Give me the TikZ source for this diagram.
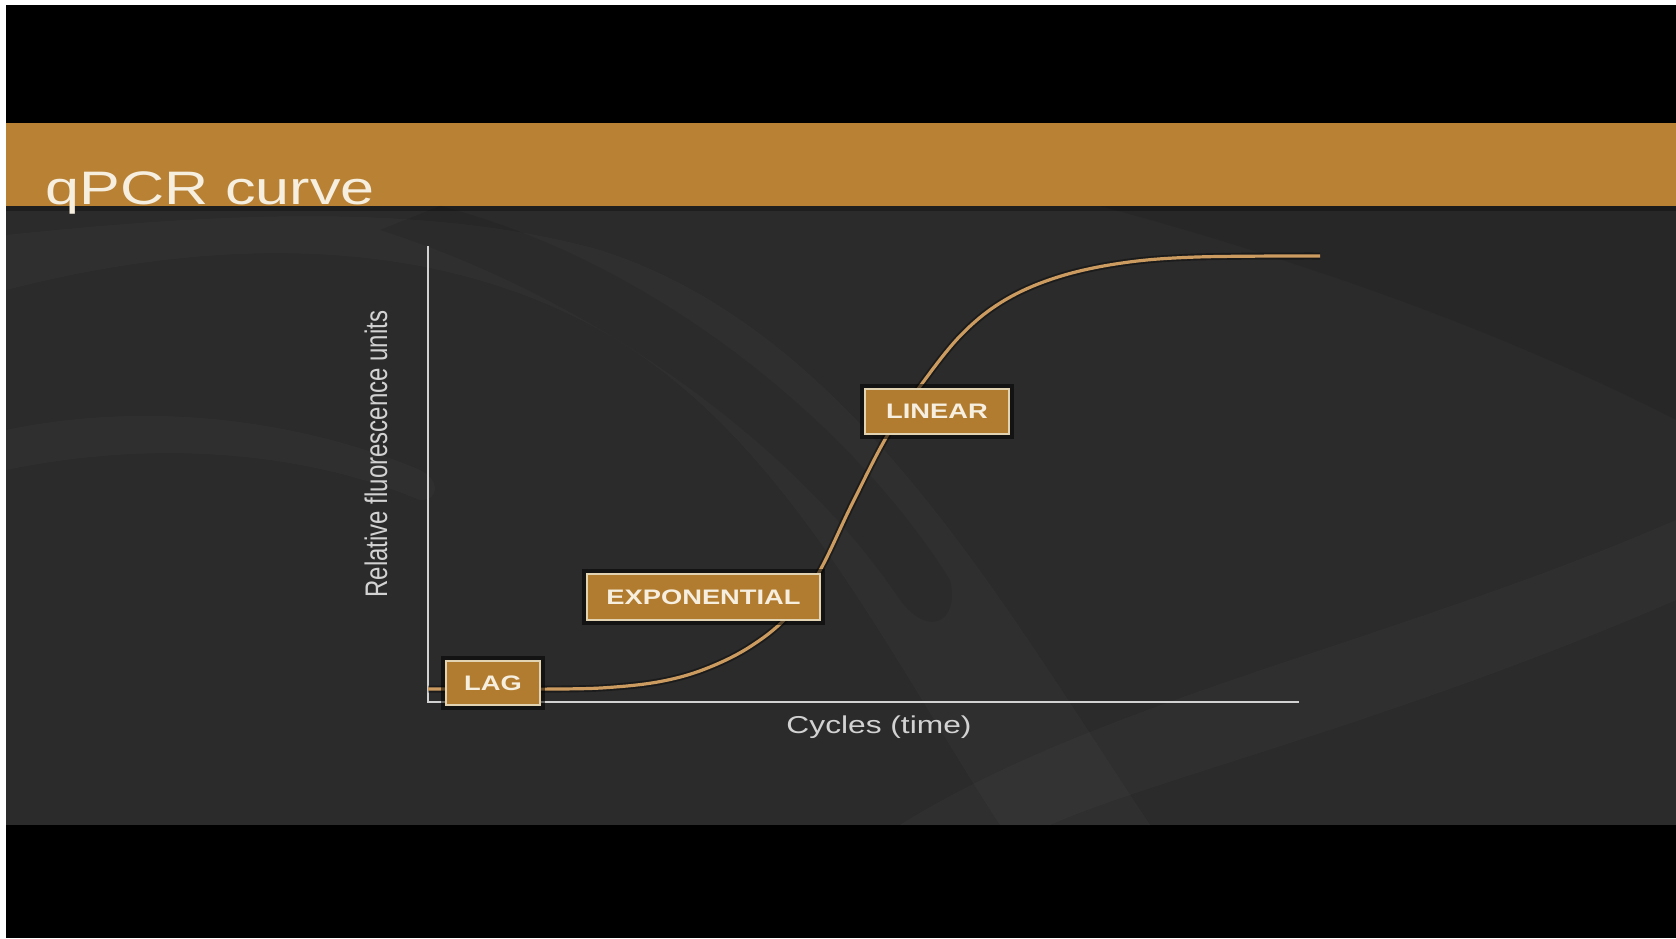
\documentclass[tikz,border=0pt]{standalone}
\usepackage{fontspec}
\setmainfont{Liberation Sans}
\usepackage{graphicx}
\definecolor{band}{RGB}{184,129,52}
\definecolor{panel}{RGB}{43,43,43}
\definecolor{boxfill}{RGB}{178,124,48}
\definecolor{boxedge}{RGB}{226,212,178}
\definecolor{curvec}{RGB}{203,155,96}
\definecolor{axisc}{RGB}{210,210,210}
\definecolor{titlec}{RGB}{246,238,222}
\newcommand\hstretch[1]{\scalebox{1.3}[1]{#1}}
\begin{document}
\begin{tikzpicture}[x=0.5pt,y=-0.5pt,
  phase/.style={draw=boxedge, line width=1pt, fill=boxfill, text=titlec,
    font=\bfseries\fontsize{10.5}{12}\selectfont, inner sep=0pt,
    preaction={draw=black, draw opacity=0.55, line width=5pt}},
  axislbl/.style={text=axisc, inner sep=0pt},
  swirl/.style={fill=white, fill opacity=0.022, draw=none},
  shade/.style={fill=black, fill opacity=0.08, draw=none}]
\useasboundingbox (0,0) rectangle (1676,938);
\fill[white] (0,0) rectangle (1676,938);
\fill[black] (6,5) rectangle (1676,938);
\fill[panel] (6,206) rectangle (1676,825);
% background swirls
\fill[swirl] (6,290) .. controls (200,240) and (420,230) .. (600,330)
  .. controls (780,430) and (880,640) .. (1000,825) -- (1150,825)
  .. controls (1000,600) and (850,330) .. (600,250)
  .. controls (420,200) and (200,215) .. (6,235) -- cycle;
\fill[shade] (380,230) .. controls (600,300) and (800,450) .. (900,600)
  .. controls (930,640) and (960,620) .. (950,580)
  .. controls (850,420) and (650,260) .. (440,206) -- cycle;
\fill[swirl] (900,825) .. controls (1100,700) and (1400,640) .. (1676,520)
  -- (1676,600) .. controls (1400,720) and (1150,780) .. (1050,825) -- cycle;
\fill[swirl] (6,430) .. controls (150,400) and (300,420) .. (420,470)
  .. controls (440,480) and (440,500) .. (420,500)
  .. controls (300,450) and (150,440) .. (6,470) -- cycle;
\fill[shade] (1676,206) -- (1676,420) .. controls (1500,330) and (1300,260) .. (1100,206) -- cycle;
% title band
\fill[band] (6,123) rectangle (1676,206);
\fill[black, opacity=0.3] (6,206) rectangle (1676,211);
\node[anchor=base west, text=titlec, font=\fontsize{23.5}{26}\selectfont, inner sep=0pt]
  (title) at (45,204) {\hstretch{qPCR curve}};
% axes
\coordinate (o) at (428,702);
\coordinate (ytop) at (428,246);
\coordinate (xend) at (1299,702);
\draw[axisc, line width=1pt] (ytop) -- (o) -- (xend);
% curve
\def\qcurve{(428,689) (560,689) (615,687) (663,681) (705,669) (748,648) (786,618) (818,574)
  (852,504) (887,436) (921,385) (962,334) (1005,300) (1058,277) (1122,263)
  (1197,257) (1320,256)}
\draw[black, opacity=0.35, line width=3.5pt] plot[smooth, tension=0.6] coordinates {\qcurve};
\draw[curvec, line width=1.6pt] plot[smooth, tension=0.6] coordinates {\qcurve};
% phase boxes
\node[phase, minimum width=47pt, minimum height=22pt] (lag) at (493,683) {\hstretch{LAG}};
\node[phase, minimum width=116.5pt, minimum height=23pt] (expo) at (703.5,597) {\hstretch{EXPONENTIAL}};
\node[phase, minimum width=72pt, minimum height=22.5pt] (lin) at (937,411.5) {\hstretch{LINEAR}};
% axis labels
\node[axislbl, rotate=90, font=\fontsize{12}{14}\selectfont] (ylab) at (376,454)
  {\scalebox{1}[1.3]{Relative fluorescence units}};
\node[axislbl, font=\fontsize{12.2}{14}\selectfont] (xlab) at (879,727) {\hstretch{Cycles (time)}};
\end{tikzpicture}
\end{document}
